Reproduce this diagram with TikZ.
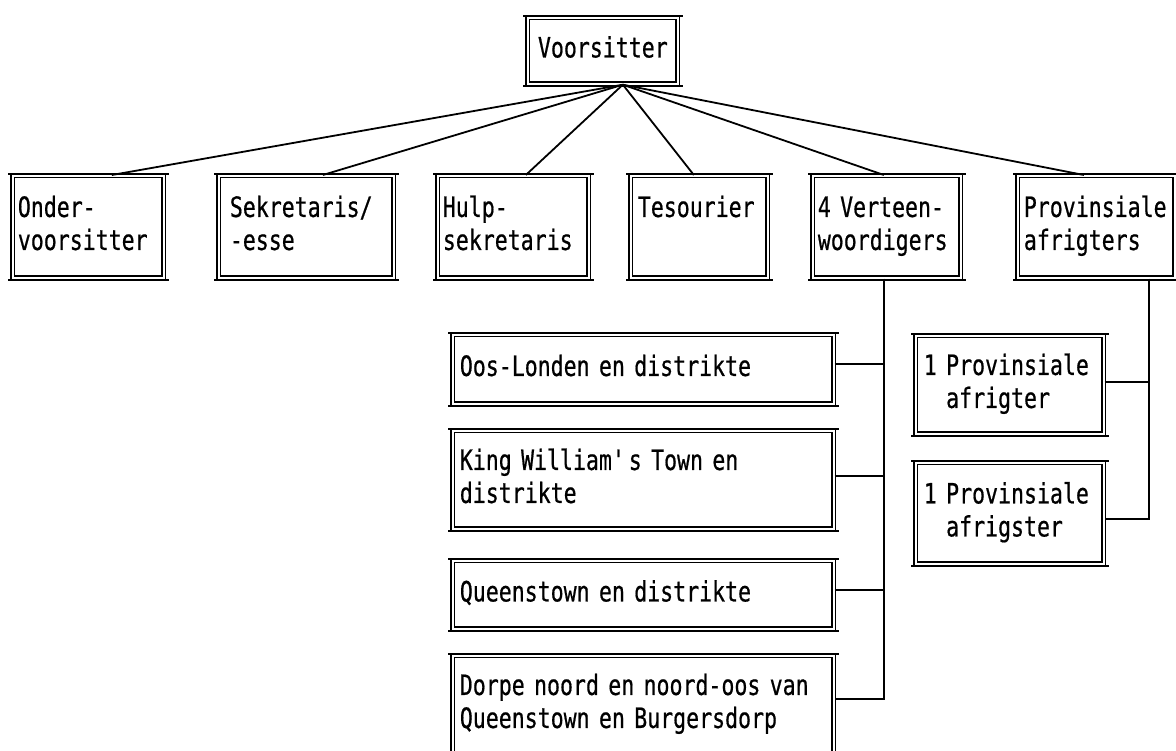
\documentclass[tikz,border=0pt]{standalone}
\usepackage{fontspec}
\setmainfont{DejaVu Sans Mono}[FakeStretch=0.77,FakeBold=0.6]
\begin{document}
\begin{tikzpicture}[x=1pt,y=-1pt,
  box/.style={draw, line width=1.7pt, double, double distance=1.6pt, rectangle,
    anchor=north west, inner ysep=0pt, align=left,
    font=\fontsize{28}{33}\selectfont,
    execute at begin node={\hyphenpenalty=10000\exhyphenpenalty=10000\strut},
    execute at end node={\strut}},
  conn/.style={line width=1.8pt},
  rim/.style={line width=2pt}]
\useasboundingbox (0,0) rectangle (1176,751);
\clip (0,0) rectangle (1176,751);
% top
\node[box, text width=140pt, inner xsep=5pt, minimum height=66pt, align=center] (vs) at (527,17) {Voorsitter};
% second row
\node[box, text width=141pt, inner xsep=5pt, minimum height=102pt] (onder) at (12,175) {Onder-\\voorsitter};
\node[box, text width=153pt, inner xsep=11pt, minimum height=102pt] (sekr) at (218,175) {Sekretaris/\\-esse};
\node[box, text width=141pt, inner xsep=5pt, minimum height=102pt] (hulp) at (437,175) {Hulp-\\sekretaris};
\node[box, text width=123pt, inner xsep=7pt, minimum height=102pt] (tes) at (630,175) {Tesourier\\};
\node[box, text width=138pt, inner xsep=5pt, minimum height=102pt] (vert) at (812,175) {4 Verteen-\\woordigers};
\node[box, text width=145pt, inner xsep=6pt, minimum height=102pt] (prov) at (1017,175) {Provinsiale\\afrigters};
% districts
\node[box, text width=367pt, inner xsep=7pt, minimum height=69pt] (oos) at (452,334) {Oos-Londen en distrikte};
\node[box, text width=367pt, inner xsep=7pt, minimum height=98pt] (kw) at (452,430) {King William\textquotesingle s Town en\\distrikte};
\node[box, text width=367pt, inner xsep=7pt, minimum height=68pt] (qt) at (452,560) {Queenstown en distrikte};
\node[box, text width=367pt, inner xsep=7pt, minimum height=98pt] (dorpe) at (452,655) {Dorpe noord en noord-oos van\\Queenstown en Burgersdorp};
% coaches
\node[box, text width=172pt, inner xsep=8pt, minimum height=98pt] (afr1) at (915,335) {1 Provinsiale\\\hphantom{1 }afrigter};
\node[box, text width=172pt, inner xsep=8pt, minimum height=101pt] (afr2) at (915,462) {1 Provinsiale\\\hphantom{1 }afrigster};
% overhanging top and bottom rims
\foreach \n in {vs,onder,sekr,hulp,tes,vert,prov,oos,kw,qt,dorpe,afr1,afr2} {
  \draw[rim] ([xshift=-4pt,yshift=1pt]\n.north west) -- ([xshift=4pt,yshift=1pt]\n.north east);
  \draw[rim] ([xshift=-4pt,yshift=-1pt]\n.south west) -- ([xshift=4pt,yshift=-1pt]\n.south east);
}
% fan from Voorsitter
\coordinate (hub) at ([xshift=20pt]vs.south);
\foreach \n/\d in {onder/23.5, sekr/16.5, hulp/12.5, tes/-5.5, vert/-3, prov/-12.5}
  \draw[conn] (hub) -- ([xshift=\d pt]\n.north);
% district spine
\coordinate (vsp) at ([xshift=-3pt]vert.south);
\coordinate (cdorpe) at ([yshift=6pt]dorpe.east);
\draw[conn] (vsp) |- (cdorpe);
\foreach \n/\d in {oos/5.5, kw/4, qt/5} {
  \coordinate (c\n) at ([yshift=\d pt]\n.east);
  \draw[conn] (c\n) -- (c\n -| vsp);
}
% coach spine
\coordinate (psp) at ([xshift=52.5pt]prov.south);
\coordinate (cafr1) at ([yshift=3pt]afr1.east);
\coordinate (cafr2) at ([yshift=-5.5pt]afr2.east);
\draw[conn] (psp) |- (cafr2);
\draw[conn] (cafr1) -- (cafr1 -| psp);
\end{tikzpicture}
\end{document}
